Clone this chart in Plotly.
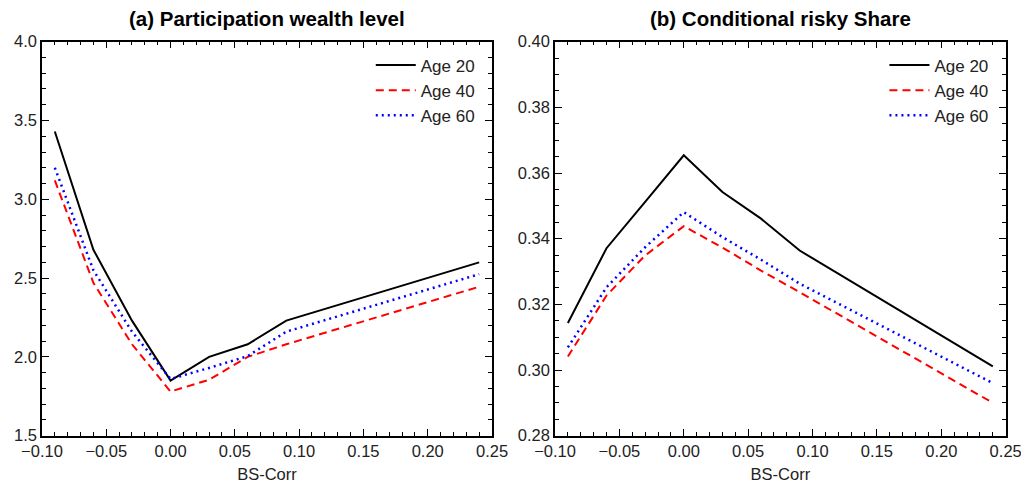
import plotly.graph_objects as go

# BS-Corr grid
bs_corr = [-0.09, -0.06, -0.03, 0.00, 0.03, 0.06, 0.09, 0.24]

# (a) Participation wealth level
wealth_age20 = [3.43, 2.68, 2.23, 1.85, 2.00, 2.08, 2.23, 2.60]
wealth_age40 = [3.12, 2.47, 2.08, 1.78, 1.855, 2.00, 2.08, 2.445]
wealth_age60 = [3.20, 2.55, 2.16, 1.86, 1.93, 2.005, 2.16, 2.525]

# (b) Conditional risky share
share_age20 = [0.3143, 0.3371, 0.3512, 0.3654, 0.3542, 0.3461, 0.3364, 0.3011]
share_age40 = [0.3041, 0.3227, 0.3349, 0.3438, 0.3373, 0.3303, 0.3237, 0.2900]
share_age60 = [0.3069, 0.3252, 0.3374, 0.3481, 0.3405, 0.3336, 0.3263, 0.2960]

series_names = ["Age 20", "Age 40", "Age 60"]
styles = [
    dict(color="black", width=2, dash="solid"),
    dict(color="#ff0000", width=2, dash="8px,5px"),
    dict(color="#0000ff", width=2.5, dash="2px,4px"),
]

FONT = "Liberation Sans"
TXT = "#222"

fig = go.Figure()

for name, ys, st in zip(series_names, [wealth_age20, wealth_age40, wealth_age60], styles):
    fig.add_trace(go.Scatter(x=bs_corr, y=ys, mode="lines", name=name, line=st,
                             xaxis="x", yaxis="y", legend="legend"))
for name, ys, st in zip(series_names, [share_age20, share_age40, share_age60], styles):
    fig.add_trace(go.Scatter(x=bs_corr, y=ys, mode="lines", name=name, line=st,
                             xaxis="x2", yaxis="y2", legend="legend2"))

ydom = [0.1035, 0.9142]
xdom1 = [0.0411, 0.4819]
xdom2 = [0.5436, 0.985]

def xaxis_cfg(domain, anchor):
    return dict(
        domain=domain, anchor=anchor, range=[-0.10, 0.25], dtick=0.05, tick0=0,
        tickformat=".2f", ticks="inside", ticklen=7, tickwidth=1.3, tickcolor="black",
        minor=dict(ticks="inside", dtick=0.01, ticklen=4, tickwidth=1, tickcolor="black"),
        showline=True, linecolor="black", linewidth=1.5, mirror="allticks",
        showgrid=False, zeroline=False, automargin=False, ticklabeloverflow="allow",
        tickfont=dict(family=FONT, size=16.5, color=TXT),
        title=dict(text="BS-Corr", font=dict(family=FONT, size=16.5, color=TXT), standoff=9),
    )

def yaxis_cfg(domain, anchor, rng, dtick, minor_dtick, fmt):
    return dict(
        domain=domain, anchor=anchor, range=rng, dtick=dtick, tickformat=fmt,
        ticks="inside", ticklen=7, tickwidth=1.3, tickcolor="black",
        minor=dict(ticks="inside", dtick=minor_dtick, ticklen=4, tickwidth=1, tickcolor="black"),
        showline=True, linecolor="black", linewidth=1.5, mirror="allticks",
        showgrid=False, zeroline=False, automargin=False, ticklabeloverflow="allow",
        tickfont=dict(family=FONT, size=16.5, color=TXT),
    )

legend_common = dict(
    bgcolor="rgba(0,0,0,0)", borderwidth=0, xanchor="right", yanchor="top",
    font=dict(family=FONT, size=17, color=TXT), tracegroupgap=0, itemwidth=40,
)

fig.update_layout(
    width=1021, height=486,
    margin=dict(l=0, r=0, t=0, b=0),
    paper_bgcolor="white", plot_bgcolor="white",
    xaxis=xaxis_cfg(xdom1, "y"),
    yaxis=yaxis_cfg(ydom, "x", [1.5, 4.0], 0.5, 0.1, ".1f"),
    xaxis2=xaxis_cfg(xdom2, "y2"),
    yaxis2=yaxis_cfg(ydom, "x2", [0.28, 0.40], 0.02, 0.005, ".2f"),
    legend=dict(x=xdom1[1] - 0.012, y=ydom[1] - 0.012, **legend_common),
    legend2=dict(x=xdom2[1] - 0.012, y=ydom[1] - 0.012, **legend_common),
    annotations=[
        dict(text="<b>(a) Participation wealth level</b>", x=sum(xdom1) / 2, y=0.99,
             xref="paper", yref="paper", xanchor="center", yanchor="top", showarrow=False,
             font=dict(family=FONT, size=20.5, color="black")),
        dict(text="<b>(b) Conditional risky Share</b>", x=sum(xdom2) / 2, y=0.99,
             xref="paper", yref="paper", xanchor="center", yanchor="top", showarrow=False,
             font=dict(family=FONT, size=20.5, color="black")),
    ],
)

fig.write_html("out.html")
